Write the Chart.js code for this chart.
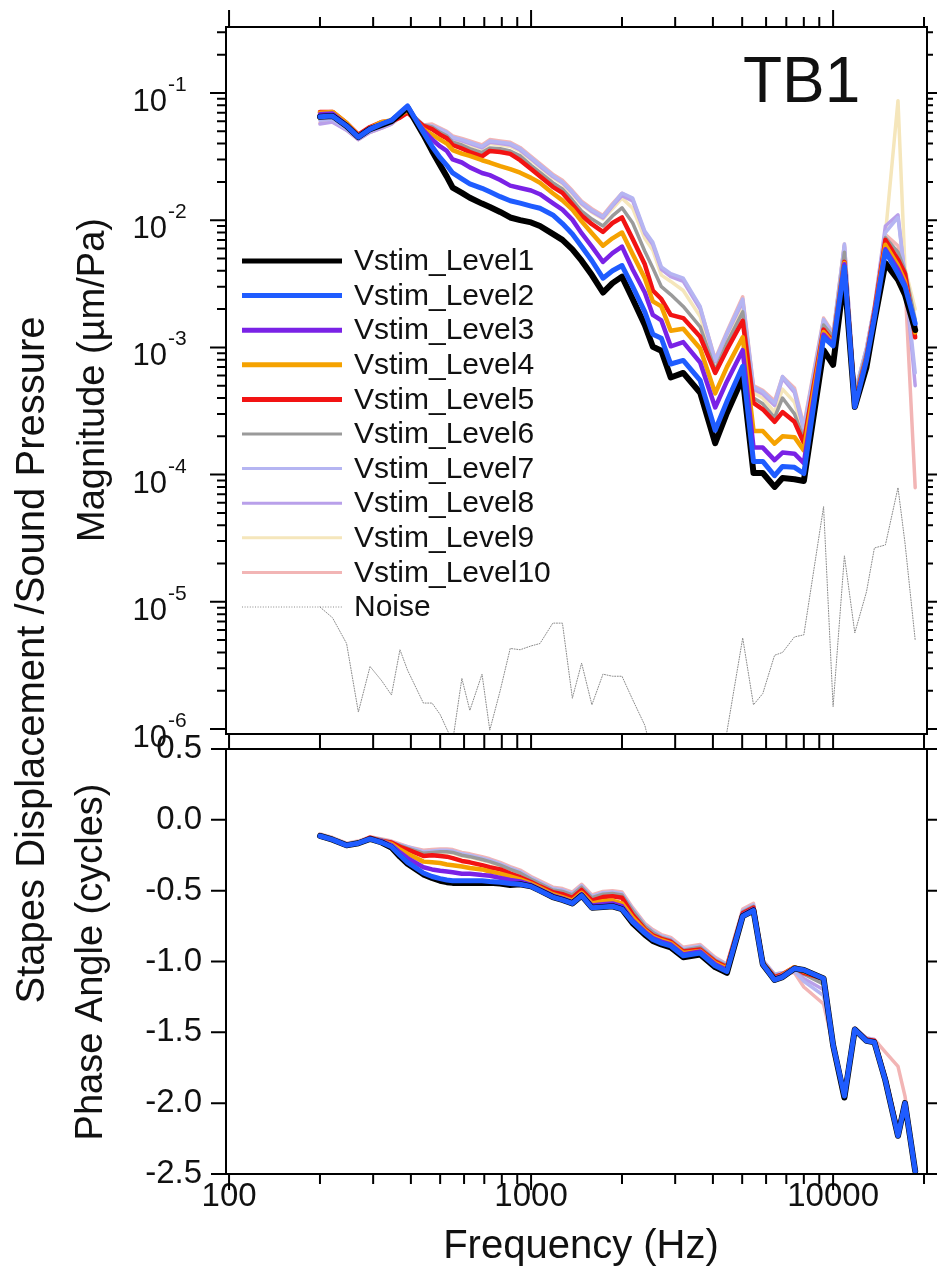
<!DOCTYPE html>
<html>
<head>
<meta charset="utf-8">
<script src="https://cdn.jsdelivr.net/npm/chart.js@4/dist/chart.umd.min.js"></script>
<style>
html,body{margin:0;padding:0;background:#fff;}
#wrap{position:relative;width:938px;height:1288px;background:#fff;}
#wrap canvas{position:absolute;left:0;top:0;}
</style>
</head>
<body>
<div id="wrap">
<canvas id="magChart" width="938" height="1288"></canvas>
<canvas id="phaseChart" width="938" height="1288"></canvas>
</div>
<script>
// ---------------- data ----------------
const freqs = [200,220,245,268,293,320,345,368,390,440,470,500,526,550,590,627,688,730,790,853,920,1000,1070,1180,1270,1370,1470,1590,1730,1860,2000,2170,2380,2530,2700,2900,3190,3630,4070,4450,5020,5450,5850,6400,6800,7450,8000,9300,10000,10900,11800,12900,13700,14900,16400,17300,18700];

const levelNames = ['Vstim_Level1','Vstim_Level2','Vstim_Level3','Vstim_Level4','Vstim_Level5','Vstim_Level6','Vstim_Level7','Vstim_Level8','Vstim_Level9','Vstim_Level10'];
const noiseName = 'Noise';

const magLevel1 = [0.065,0.066,0.055,0.045,0.052,0.056,0.060,0.068,0.077,0.047,0.035,0.027,0.022,0.018,0.0164,0.015,0.0135,0.0127,0.0116,0.0105,0.0100,0.0096,0.0090,0.0078,0.0070,0.0059,0.0048,0.0037,0.0027,0.0032,0.0036,0.0024,0.0015,0.00101,0.00094,0.00058,0.00063,0.00044,0.000177,0.000305,0.00058,0.000103,0.000103,0.00008,0.000094,0.000092,0.000089,0.00095,0.00073,0.0037,0.00034,0.0007,0.0016,0.0046,0.0034,0.0026,0.00137];
const magLevel2 = [0.065,0.066,0.055,0.045,0.052,0.057,0.061,0.070,0.079,0.049,0.038,0.031,0.027,0.0235,0.0211,0.0193,0.0178,0.0167,0.0153,0.0142,0.0136,0.0129,0.0124,0.011,0.0094,0.0078,0.0062,0.0048,0.0035,0.0040,0.0044,0.0030,0.0019,0.00127,0.00118,0.00074,0.00079,0.00055,0.000223,0.000375,0.00071,0.000127,0.000127,0.000098,0.000116,0.000114,0.000102,0.0012,0.00103,0.0043,0.00034,0.00079,0.0017,0.0057,0.0038,0.0030,0.00154];
const magLevel3 = [0.068,0.069,0.056,0.046,0.053,0.057,0.061,0.068,0.075,0.051,0.043,0.038,0.035,0.030,0.0284,0.026,0.0235,0.0226,0.0207,0.0187,0.0179,0.0171,0.016,0.0136,0.0121,0.0101,0.0079,0.0062,0.0047,0.0055,0.0062,0.0041,0.0027,0.0018,0.00163,0.00102,0.0011,0.00076,0.000337,0.00054,0.00095,0.000163,0.000163,0.00013,0.000149,0.000146,0.000123,0.00126,0.00105,0.0045,0.000356,0.00081,0.0018,0.0059,0.0041,0.0031,0.00147];
const magLevel4 = [0.070,0.071,0.058,0.046,0.053,0.059,0.061,0.067,0.073,0.052,0.047,0.043,0.040,0.0356,0.0334,0.032,0.0296,0.0284,0.0266,0.0252,0.0236,0.0215,0.0197,0.0163,0.0143,0.0121,0.0098,0.0079,0.0063,0.0072,0.008,0.0054,0.0035,0.0023,0.0021,0.00135,0.0014,0.00098,0.000435,0.0007,0.0012,0.00022,0.00022,0.000175,0.0002,0.000197,0.000155,0.00132,0.00108,0.0046,0.000364,0.00082,0.0018,0.0064,0.0044,0.0033,0.00131];
const magLevel5 = [0.071,0.071,0.058,0.047,0.054,0.059,0.060,0.064,0.070,0.055,0.052,0.047,0.044,0.039,0.0366,0.0343,0.0317,0.035,0.0343,0.0332,0.0296,0.0252,0.0221,0.0183,0.0164,0.0133,0.0109,0.0093,0.0081,0.0095,0.0105,0.0071,0.0045,0.0028,0.0024,0.0018,0.0017,0.00121,0.00063,0.00096,0.00162,0.000366,0.000326,0.00026,0.00031,0.00026,0.000178,0.00138,0.0011,0.0047,0.000372,0.00084,0.0019,0.007,0.0049,0.0038,0.0012];
const magLevel6 = [0.065,0.066,0.055,0.045,0.052,0.056,0.060,0.067,0.073,0.056,0.054,0.049,0.046,0.041,0.039,0.0365,0.034,0.037,0.0365,0.035,0.032,0.027,0.0238,0.0197,0.0176,0.0144,0.0118,0.0102,0.0090,0.0108,0.0125,0.0095,0.0057,0.0042,0.0030,0.0026,0.0021,0.00145,0.00066,0.00108,0.0019,0.0004,0.00036,0.00028,0.0004,0.0003,0.00019,0.0015,0.00121,0.0056,0.00041,0.00092,0.002,0.0073,0.0056,0.004,0.00165];
const magLevel7 = [0.061,0.062,0.052,0.044,0.050,0.055,0.059,0.065,0.072,0.056,0.055,0.052,0.049,0.045,0.043,0.041,0.038,0.042,0.041,0.040,0.0365,0.031,0.0272,0.0225,0.020,0.0167,0.0138,0.012,0.0107,0.0132,0.0163,0.0149,0.0082,0.0067,0.0043,0.0038,0.0035,0.0021,0.00079,0.0013,0.0024,0.00049,0.00045,0.000366,0.00059,0.00046,0.000234,0.00166,0.00126,0.0065,0.00044,0.00099,0.0021,0.008,0.0105,0.0036,0.00063];
const magLevel8 = [0.057,0.059,0.051,0.043,0.049,0.053,0.057,0.065,0.072,0.055,0.054,0.051,0.048,0.044,0.042,0.040,0.037,0.041,0.040,0.039,0.0356,0.0303,0.0265,0.022,0.0197,0.0164,0.0135,0.0117,0.0104,0.0129,0.0156,0.0142,0.0079,0.0064,0.0041,0.0036,0.0033,0.002,0.00077,0.00127,0.0023,0.00047,0.00043,0.00035,0.00057,0.00044,0.000224,0.00158,0.00124,0.0063,0.00043,0.00097,0.0021,0.009,0.011,0.0036,0.0005];
const magLevel9 = [0.068,0.069,0.056,0.045,0.052,0.056,0.060,0.067,0.073,0.055,0.053,0.050,0.047,0.043,0.041,0.039,0.036,0.040,0.039,0.038,0.0348,0.0296,0.026,0.0215,0.0192,0.016,0.0132,0.0115,0.0102,0.0123,0.0149,0.0124,0.0072,0.0058,0.0037,0.0033,0.0028,0.00175,0.0007,0.00119,0.0021,0.00044,0.0004,0.00031,0.00047,0.00037,0.000204,0.00155,0.00121,0.0059,0.00042,0.00092,0.002,0.0077,0.087,0.0042,0.002];
const magLevel10 = [0.058,0.060,0.051,0.043,0.049,0.053,0.057,0.064,0.070,0.056,0.057,0.053,0.050,0.046,0.044,0.042,0.039,0.043,0.042,0.041,0.0373,0.0318,0.0278,0.023,0.0206,0.0171,0.0141,0.0123,0.0109,0.0135,0.0163,0.0146,0.008,0.0065,0.0042,0.0037,0.0034,0.00205,0.00081,0.00133,0.0025,0.0005,0.00046,0.00038,0.00059,0.00048,0.000245,0.0017,0.0013,0.0065,0.00044,0.00099,0.0021,0.0077,0.0063,0.0032,0.000079];
const magNoise = [9.1e-6,7.5e-6,4.7e-6,1.36e-6,3.1e-6,2.4e-6,1.85e-6,4.2e-6,2.9e-6,1.6e-6,1.6e-6,1.3e-6,1.0e-6,8e-7,2.5e-6,1.4e-6,2.7e-6,9.8e-7,2.0e-6,4.3e-6,4.2e-6,4.5e-6,4.7e-6,6.8e-6,6.8e-6,1.75e-6,3.3e-6,1.55e-6,2.7e-6,2.6e-6,2.6e-6,1.7e-6,1.07e-6,6e-7,5e-7,4e-7,5e-7,4e-7,5e-7,9.5e-7,5.2e-6,1.55e-6,1.9e-6,3.8e-6,4.0e-6,5.3e-6,5.5e-6,5.6e-5,1.5e-6,2.3e-5,5.7e-6,1.2e-5,2.65e-5,2.8e-5,7.9e-5,2.9e-5,5e-6];

const phaseLevel1 = [-0.114,-0.14,-0.18,-0.165,-0.135,-0.16,-0.195,-0.26,-0.31,-0.385,-0.41,-0.43,-0.44,-0.445,-0.445,-0.445,-0.445,-0.445,-0.45,-0.46,-0.455,-0.47,-0.50,-0.545,-0.565,-0.59,-0.535,-0.62,-0.615,-0.61,-0.63,-0.73,-0.81,-0.855,-0.88,-0.90,-0.97,-0.95,-1.04,-1.08,-0.68,-0.64,-1.02,-1.13,-1.11,-1.05,-1.06,-1.12,-1.59,-1.96,-1.48,-1.56,-1.57,-1.84,-2.23,-2.0,-2.48];
const phaseLevel2 = [-0.114,-0.14,-0.18,-0.165,-0.135,-0.16,-0.19,-0.25,-0.30,-0.375,-0.40,-0.415,-0.425,-0.43,-0.43,-0.43,-0.43,-0.435,-0.44,-0.45,-0.455,-0.47,-0.50,-0.545,-0.565,-0.59,-0.535,-0.62,-0.615,-0.61,-0.63,-0.72,-0.80,-0.845,-0.87,-0.89,-0.96,-0.94,-1.03,-1.07,-0.68,-0.64,-1.02,-1.13,-1.11,-1.05,-1.06,-1.12,-1.59,-1.95,-1.48,-1.56,-1.57,-1.84,-2.23,-2.0,-2.48];
const phaseLevel3 = [-0.114,-0.14,-0.18,-0.165,-0.135,-0.15,-0.18,-0.23,-0.27,-0.335,-0.35,-0.36,-0.365,-0.37,-0.38,-0.38,-0.39,-0.395,-0.41,-0.425,-0.435,-0.46,-0.49,-0.535,-0.555,-0.58,-0.525,-0.605,-0.595,-0.59,-0.61,-0.71,-0.79,-0.835,-0.86,-0.88,-0.95,-0.93,-1.02,-1.06,-0.67,-0.63,-1.02,-1.12,-1.10,-1.045,-1.06,-1.12,-1.59,-1.95,-1.48,-1.56,-1.57,-1.84,-2.23,-2.0,-2.48];
const phaseLevel4 = [-0.114,-0.14,-0.18,-0.165,-0.135,-0.15,-0.17,-0.21,-0.24,-0.295,-0.30,-0.305,-0.315,-0.32,-0.33,-0.34,-0.35,-0.365,-0.38,-0.40,-0.42,-0.45,-0.48,-0.525,-0.545,-0.57,-0.515,-0.59,-0.575,-0.57,-0.59,-0.69,-0.78,-0.825,-0.85,-0.87,-0.94,-0.925,-1.01,-1.05,-0.67,-0.63,-1.01,-1.12,-1.095,-1.04,-1.07,-1.12,-1.59,-1.95,-1.48,-1.56,-1.57,-1.84,-2.22,-2.0,-2.48];
const phaseLevel5 = [-0.114,-0.14,-0.18,-0.165,-0.125,-0.15,-0.16,-0.19,-0.21,-0.255,-0.25,-0.255,-0.26,-0.27,-0.29,-0.30,-0.32,-0.335,-0.35,-0.38,-0.405,-0.44,-0.47,-0.51,-0.525,-0.55,-0.495,-0.57,-0.545,-0.54,-0.55,-0.67,-0.77,-0.815,-0.84,-0.86,-0.93,-0.915,-1.0,-1.04,-0.66,-0.62,-1.01,-1.11,-1.09,-1.04,-1.08,-1.12,-1.59,-1.95,-1.48,-1.55,-1.56,-1.83,-2.21,-2.0,-2.48];
const phaseLevel6 = [-0.104,-0.13,-0.17,-0.155,-0.125,-0.14,-0.16,-0.18,-0.20,-0.235,-0.23,-0.225,-0.225,-0.23,-0.25,-0.26,-0.28,-0.295,-0.32,-0.35,-0.375,-0.42,-0.45,-0.495,-0.505,-0.53,-0.475,-0.55,-0.525,-0.52,-0.53,-0.64,-0.75,-0.795,-0.83,-0.85,-0.92,-0.90,-0.99,-1.03,-0.65,-0.61,-1.0,-1.10,-1.09,-1.05,-1.09,-1.16,-1.59,-1.95,-1.48,-1.55,-1.56,-1.82,-2.20,-1.99,-2.48];
const phaseLevel7 = [-0.104,-0.13,-0.17,-0.155,-0.125,-0.14,-0.155,-0.175,-0.19,-0.225,-0.22,-0.215,-0.215,-0.22,-0.24,-0.25,-0.27,-0.285,-0.31,-0.34,-0.365,-0.41,-0.44,-0.485,-0.495,-0.52,-0.465,-0.54,-0.515,-0.51,-0.52,-0.63,-0.74,-0.785,-0.82,-0.84,-0.91,-0.89,-0.98,-1.02,-0.64,-0.60,-0.99,-1.09,-1.08,-1.07,-1.14,-1.24,-1.59,-1.94,-1.47,-1.54,-1.55,-1.81,-2.19,-1.99,-2.48];
const phaseLevel8 = [-0.104,-0.13,-0.17,-0.155,-0.125,-0.14,-0.16,-0.18,-0.195,-0.23,-0.225,-0.22,-0.22,-0.225,-0.245,-0.255,-0.275,-0.29,-0.315,-0.345,-0.37,-0.415,-0.445,-0.49,-0.50,-0.525,-0.47,-0.545,-0.52,-0.515,-0.525,-0.635,-0.745,-0.79,-0.825,-0.845,-0.915,-0.895,-0.985,-1.025,-0.645,-0.605,-0.995,-1.095,-1.085,-1.06,-1.12,-1.20,-1.59,-1.95,-1.48,-1.55,-1.56,-1.82,-2.20,-1.99,-2.48];
const phaseLevel9 = [-0.104,-0.13,-0.17,-0.155,-0.125,-0.14,-0.16,-0.185,-0.205,-0.24,-0.235,-0.23,-0.23,-0.235,-0.255,-0.265,-0.285,-0.30,-0.325,-0.355,-0.38,-0.42,-0.45,-0.495,-0.505,-0.53,-0.475,-0.55,-0.525,-0.52,-0.53,-0.64,-0.75,-0.795,-0.83,-0.85,-0.92,-0.90,-0.99,-1.03,-0.65,-0.61,-1.0,-1.10,-1.09,-1.05,-1.08,-1.14,-1.59,-1.95,-1.48,-1.55,-1.56,-1.82,-2.20,-1.99,-2.48];
const phaseLevel10 = [-0.099,-0.125,-0.165,-0.15,-0.12,-0.135,-0.15,-0.17,-0.19,-0.215,-0.21,-0.205,-0.205,-0.21,-0.23,-0.24,-0.26,-0.275,-0.30,-0.33,-0.355,-0.40,-0.43,-0.475,-0.485,-0.51,-0.455,-0.53,-0.505,-0.50,-0.51,-0.62,-0.73,-0.775,-0.81,-0.83,-0.90,-0.88,-0.97,-1.02,-0.63,-0.59,-0.99,-1.09,-1.08,-1.08,-1.18,-1.30,-1.59,-1.93,-1.47,-1.54,-1.55,-1.64,-1.74,-1.95,-2.48];

// ticks
const xTickValues = [100,200,300,400,500,600,700,800,900,1000,2000,3000,4000,5000,6000,7000,8000,9000,10000,20000];
const xTickLabels = {100:'100',1000:'1000',10000:'10000'};
const magMantissas = [1,2,3,4,5,6,7,8,9];
const magDecades = [-6,-5,-4,-3,-2,-1];
const magExponentLabels = ['-6','-5','-4','-3','-2','-1'];
const phaseTickValues = [0.5,0.0,-0.5,-1.0,-1.5,-2.0,-2.5];

// ranges
const xMin = 97.7, xMax = 20460;
const magMin = 9.14e-7, magMax = 0.33;
const phaseMin = -2.5, phaseMax = 0.5;

// ---------------- styles ----------------
const FONT = '"Liberation Sans", Arial, Helvetica, sans-serif';
const TEXT = '#111';
const levelStyles = [
  {color:'#000000', width:6,   legend:5, order:1},
  {color:'#1f5cff', width:5,   legend:5, order:0},
  {color:'#7a22e6', width:4.5, legend:5, order:2},
  {color:'#f5a200', width:4.5, legend:5, order:3},
  {color:'#f21313', width:4.5, legend:5, order:4},
  {color:'#9a9a9a', width:3.5, legend:3, order:5},
  {color:'#b5b5f2', width:3.5, legend:3, order:6},
  {color:'#b9a0ea', width:3.5, legend:3, order:7},
  {color:'#f5e6bb', width:3.5, legend:3, order:8},
  {color:'#f2b5b5', width:3.5, legend:3, order:9}
];
const noiseStyle = {color:'#8a8a8a', width:1, dash:[1,1.6], order:10, legend:1};

const magLevels = [magLevel1,magLevel2,magLevel3,magLevel4,magLevel5,magLevel6,magLevel7,magLevel8,magLevel9,magLevel10];
const phaseLevels = [phaseLevel1,phaseLevel2,phaseLevel3,phaseLevel4,phaseLevel5,phaseLevel6,phaseLevel7,phaseLevel8,phaseLevel9,phaseLevel10];

function pts(arr){ return freqs.map((f,i)=>({x:f, y:arr[i]})); }
function mkDs(label, arr, st){
  return {label, data: pts(arr), borderColor: st.color, backgroundColor: st.color,
    borderWidth: st.width, borderDash: st.dash || [], order: st.order,
    pointRadius: 0, tension: 0, fill: false, borderJoinStyle: 'round', borderCapStyle: 'round'};
}

const magTicks = [];
magDecades.forEach(d => magMantissas.forEach(m => {
  const v = m * Math.pow(10, d);
  if (v <= magMax) magTicks.push({v, major: m === 1});
}));

function vText(ctx, text, x, y, size){
  ctx.save();
  ctx.translate(x, y);
  ctx.rotate(-Math.PI/2);
  ctx.font = size + 'px ' + FONT;
  ctx.textAlign = 'center';
  ctx.textBaseline = 'alphabetic';
  ctx.fillStyle = TEXT;
  ctx.fillText(text, 0, 0);
  ctx.restore();
}

const magDecor = {
  id: 'magDecor',
  afterDraw(chart){
    const ctx = chart.ctx, a = chart.chartArea;
    const xs = chart.scales.x, ys = chart.scales.y;
    ctx.save();
    ctx.strokeStyle = '#000'; ctx.lineWidth = 2; ctx.setLineDash([]);
    ctx.strokeRect(a.left, a.top, a.right - a.left, a.bottom - a.top);
    ctx.beginPath();
    xTickValues.forEach(v => {
      const px = xs.getPixelForValue(v);
      if (px < a.left - 1 || px > a.right + 1) return;
      const major = xTickLabels[v] !== undefined;
      ctx.moveTo(px, a.top); ctx.lineTo(px, a.top - (major ? 17 : 10));
      ctx.moveTo(px, a.bottom); ctx.lineTo(px, a.bottom + 15);
    });
    magTicks.forEach(t => {
      const py = ys.getPixelForValue(t.v);
      if (py < a.top - 1 || py > a.bottom + 1) return;
      ctx.moveTo(a.left, py); ctx.lineTo(a.left - (t.major ? 16 : 9), py);
      ctx.moveTo(a.right, py); ctx.lineTo(a.right + (t.major ? 10 : 6), py);
    });
    ctx.stroke();

    // y tick labels 10^n
    ctx.fillStyle = TEXT;
    magDecades.forEach((d, i) => {
      const py = ys.getPixelForValue(Math.pow(10, d));
      ctx.font = '31px ' + FONT; ctx.textAlign = 'right'; ctx.textBaseline = 'alphabetic';
      ctx.fillText('10', 167, py + 18);
      ctx.font = '21px ' + FONT; ctx.textAlign = 'left';
      ctx.fillText(magExponentLabels[i], 168, py - 2);
    });

    // legend
    ctx.font = '30px ' + FONT; ctx.textAlign = 'left'; ctx.textBaseline = 'middle';
    chart.data.datasets.forEach((ds, i) => {
      const yy = 261 + 34.6 * i;
      const st = i < levelStyles.length ? levelStyles[i] : noiseStyle;
      ctx.strokeStyle = ds.borderColor; ctx.lineWidth = st.legend;
      ctx.setLineDash(ds.borderDash || []);
      ctx.beginPath(); ctx.moveTo(242, yy); ctx.lineTo(342, yy); ctx.stroke();
      ctx.setLineDash([]);
      ctx.fillStyle = TEXT;
      ctx.fillText(ds.label, 354, yy + 1);
    });

    // panel label
    ctx.font = '64px ' + FONT; ctx.textAlign = 'left'; ctx.textBaseline = 'alphabetic';
    ctx.fillText('TB1', 743, 102);
    ctx.restore();

    vText(ctx, 'Stapes Displacement /Sound Pressure', 44, 660, 40);
    vText(ctx, 'Magnitude (\u00b5m/Pa)', 104, 380, 38);
  }
};

const phaseDecor = {
  id: 'phaseDecor',
  afterDraw(chart){
    const ctx = chart.ctx, a = chart.chartArea;
    const xs = chart.scales.x, ys = chart.scales.y;
    ctx.save();
    ctx.strokeStyle = '#000'; ctx.lineWidth = 2; ctx.setLineDash([]);
    ctx.strokeRect(a.left, a.top, a.right - a.left, a.bottom - a.top);
    ctx.beginPath();
    xTickValues.forEach(v => {
      const px = xs.getPixelForValue(v);
      if (px < a.left - 1 || px > a.right + 1) return;
      const major = xTickLabels[v] !== undefined;
      ctx.moveTo(px, a.bottom); ctx.lineTo(px, a.bottom + (major ? 16 : 10));
    });
    phaseTickValues.forEach(v => {
      const py = ys.getPixelForValue(v);
      ctx.moveTo(a.left, py); ctx.lineTo(a.left - 15, py);
      ctx.moveTo(a.right, py); ctx.lineTo(a.right + 10, py);
    });
    ctx.stroke();
    ctx.restore();

    vText(ctx, 'Phase Angle (cycles)', 102, 962, 38);
    ctx.save();
    ctx.fillStyle = TEXT; ctx.font = '40px ' + FONT;
    ctx.textAlign = 'center'; ctx.textBaseline = 'alphabetic';
    ctx.fillText('Frequency (Hz)', 581, 1258);
    ctx.restore();
  }
};

const hiddenGrid = {display:false, drawTicks:false};
const hiddenBorder = {display:false};

// ---------------- magnitude chart ----------------
const magDatasets = magLevels.map((arr, i) => mkDs(levelNames[i], arr, levelStyles[i]));
magDatasets.push(mkDs(noiseName, magNoise, noiseStyle));

new Chart(document.getElementById('magChart'), {
  type: 'line',
  data: { datasets: magDatasets },
  options: {
    responsive: false, animation: false, devicePixelRatio: 1,
    layout: { padding: { left: 0, top: 27, right: 11, bottom: 554 } },
    plugins: { legend: { display: false }, tooltip: { enabled: false } },
    scales: {
      x: { type: 'logarithmic', min: xMin, max: xMax,
           ticks: { display: false }, grid: hiddenGrid, border: hiddenBorder,
           afterBuildTicks: s => { s.ticks = xTickValues.map(v => ({value: v})); },
           afterFit: s => { s.height = 0; } },
      y: { type: 'logarithmic', min: magMin, max: magMax,
           ticks: { display: false }, grid: hiddenGrid, border: hiddenBorder,
           afterBuildTicks: s => { s.ticks = magTicks.map(t => ({value: t.v, major: t.major})); },
           afterFit: s => { s.width = 226; } }
    }
  },
  plugins: [magDecor]
});

// ---------------- phase chart ----------------
const phaseDatasets = phaseLevels.map((arr, i) => mkDs(levelNames[i], arr, levelStyles[i]));

new Chart(document.getElementById('phaseChart'), {
  type: 'line',
  data: { datasets: phaseDatasets },
  options: {
    responsive: false, animation: false, devicePixelRatio: 1,
    layout: { padding: { left: 0, top: 749, right: 11, bottom: 0 } },
    plugins: { legend: { display: false }, tooltip: { enabled: false } },
    scales: {
      x: { type: 'logarithmic', min: xMin, max: xMax,
           grid: hiddenGrid, border: hiddenBorder,
           ticks: { display: true, autoSkip: false, maxRotation: 0, minRotation: 0, padding: 3,
                    color: TEXT, font: { family: FONT, size: 33 },
                    callback: v => (xTickLabels[v] !== undefined ? xTickLabels[v] : '') },
           afterBuildTicks: s => { s.ticks = xTickValues.map(v => ({value: v})); },
           afterFit: s => { s.height = 114; } },
      y: { type: 'linear', min: phaseMin, max: phaseMax,
           grid: hiddenGrid, border: hiddenBorder,
           ticks: { display: true, padding: 24, color: TEXT, font: { family: FONT, size: 33 },
                    callback: v => Number(v).toFixed(1) },
           afterBuildTicks: s => { s.ticks = phaseTickValues.map(v => ({value: v})); },
           afterFit: s => { s.width = 226; } }
    }
  },
  plugins: [phaseDecor]
});
</script>
</body>
</html>
